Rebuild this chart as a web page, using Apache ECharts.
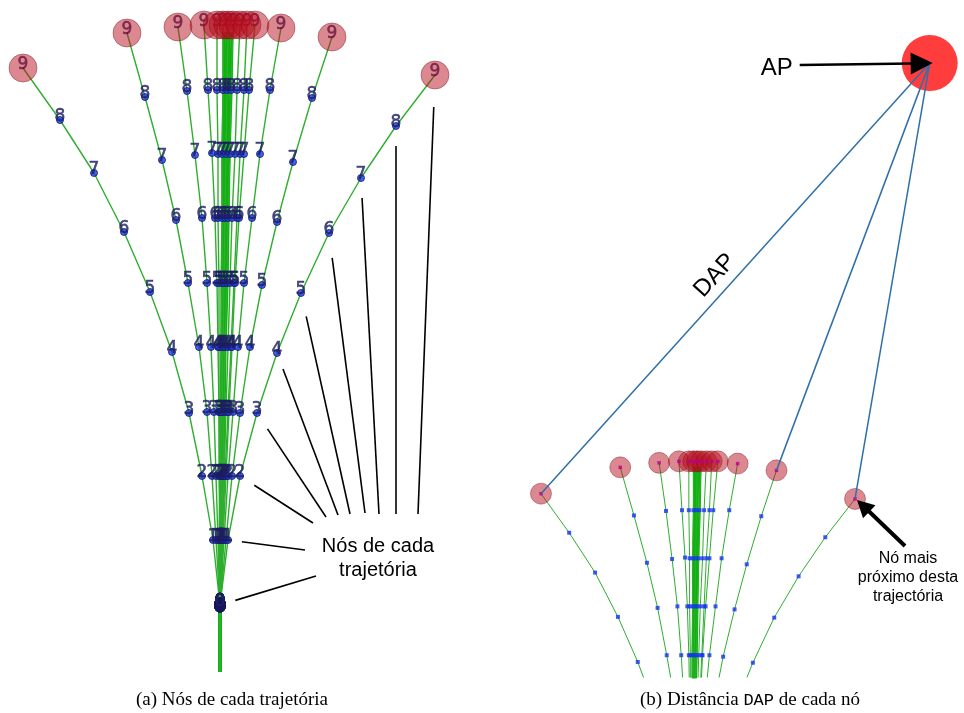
<!DOCTYPE html>
<html>
<head>
<meta charset="utf-8">
<script src="https://cdn.jsdelivr.net/npm/echarts@6/dist/echarts.min.js"></script>
<style>
html, body { margin: 0; padding: 0; background: #fff; }
#chart { width: 964px; height: 713px; }
</style>
</head>
<body>
<div id="chart"></div>
<script>
// rótulos dos nós (nível 0 a 9)
const nodeLabels = ['0', '1', '2', '3', '4', '5', '6', '7', '8', '9'];

// desvio lateral de cada nó, trajetórias da esquerda para a direita (raiz em 0)
const trajX = [
  [0, -7, -18, -31, -48, -70, -96, -126, -160, -197],
  [0, -4, -8, -13, -21, -32, -44, -58, -75, -93],
  [0, -2, -4, -6, -9, -13, -18, -25, -33, -42],
  [0, 0, -1, -1, -2, -3, -5, -8, -12, -16],
  [0, 0, 0, -1, -1, -1, -2, -2, -3, -3],
  [0, 0, 1, 1, 1, 2, 2, 2, 3, 3],
  [0, 1, 2, 2, 3, 4, 5, 6, 7, 8],
  [0, 1, 3, 4, 5, 7, 8, 10, 11, 13],
  [0, 2, 4, 6, 8, 10, 12, 15, 17, 20],
  [0, 2, 5, 8, 11, 14, 17, 20, 24, 27],
  [0, 3, 6, 9, 12, 15, 19, 24, 29, 35],
  [0, 4, 8, 13, 18, 24, 32, 40, 50, 61],
  [0, 6, 12, 20, 30, 42, 57, 73, 92, 112],
  [0, 8, 20, 37, 57, 81, 109, 141, 176, 215]
];
// altura de cada nó acima da raiz
const trajY = [
  [67, 132, 196, 259, 320, 380, 440, 499, 552, 604],
  [67, 132, 196, 260, 325, 389, 452, 512, 575, 639],
  [67, 132, 196, 260, 325, 389, 454, 517, 581, 645],
  [67, 132, 196, 260, 325, 389, 454, 519, 582, 647],
  [67, 132, 196, 260, 325, 389, 454, 518, 582, 647],
  [67, 132, 196, 260, 325, 389, 454, 518, 582, 647],
  [67, 132, 196, 260, 325, 389, 454, 518, 582, 647],
  [67, 132, 196, 260, 325, 389, 454, 518, 582, 647],
  [67, 132, 196, 260, 325, 389, 454, 518, 582, 647],
  [67, 132, 196, 260, 325, 389, 454, 518, 582, 647],
  [67, 132, 196, 260, 325, 389, 454, 518, 582, 647],
  [67, 132, 196, 260, 325, 389, 454, 518, 582, 644],
  [67, 132, 196, 259, 325, 387, 450, 510, 574, 635],
  [67, 132, 196, 259, 319, 379, 439, 494, 546, 597]
];
// feixe central (muitas trajetórias quase sobrepostas)
const bundleX = [
  [0, 0, 1, 1, 2, 2, 3, 3, 4, 4],
  [0, 1, 1, 2, 3, 4, 4, 5, 6, 7],
  [0, 1, 2, 3, 4, 5, 6, 7, 8, 9],
  [0, 1, 3, 4, 5, 7, 8, 9, 11, 12]
];
const bundleY = [67, 132, 196, 260, 325, 389, 454, 518, 582, 640];

const apPos = [313, 1177];      // ponto de acesso (painel b)
const dapTargets = [0, 12, 13]; // trajetórias ligadas ao AP
const annotated = 13;           // trajetória com as setas de anotação

const chart = echarts.init(document.getElementById('chart'));

function pts(xs, ys) {
  return [[0, 0]].concat(xs.map((x, k) => [x, ys[k]]));
}

const series = [];
[0, 1].forEach(g => {
  bundleX.forEach(xs => {
    series.push({
      type: 'line', xAxisIndex: g, yAxisIndex: g, data: pts(xs, bundleY),
      symbol: 'none', silent: true, z: 2,
      lineStyle: { color: '#0cb30c', width: g ? 2.6 : 3.3 }
    });
  });
  trajX.forEach((xs, i) => {
    series.push({
      type: 'line', xAxisIndex: g, yAxisIndex: g, data: pts(xs, trajY[i]),
      symbol: 'none', silent: true, z: 2,
      lineStyle: { color: '#2fae2f', width: g ? 1 : 1.4 }
    });
  });
});

const pink = 'rgba(185,15,30,0.62)';
const pinkBorder = 'rgba(120,15,25,0.5)';

// painel a: nós com rótulos
const nodesA = [];
const nodesB = [];
const topA = [];
trajX.forEach((xs, i) => {
  xs.forEach((x, k) => {
    const item = { value: [x, trajY[i][k], k], symbolSize: k === 9 ? 1 : 7 };
    if (k === 0) {
      item.symbolSize = [11, 14];
      item.itemStyle = { color: '#15155a' };
    }
    nodesA.push(item);
    if (k < 9) nodesB.push([x, trajY[i][k]]);
  });
  topA.push([xs[9], trajY[i][9]]);
});

series.push({
  type: 'scatter', xAxisIndex: 0, yAxisIndex: 0, data: nodesA, z: 3, silent: true,
  itemStyle: { color: '#1a3cf0', borderColor: '#161660', borderWidth: 1 },
  label: {
    show: true, position: 'inside', offset: [0, -3],
    formatter: p => nodeLabels[p.value[2]],
    color: '#1e1e62', fontFamily: 'DejaVu Sans', fontSize: 17,
    textBorderColor: '#1e1e62', textBorderWidth: 0.6
  }
});
series.push({
  type: 'scatter', xAxisIndex: 0, yAxisIndex: 0, data: topA, z: 4, silent: true,
  symbolSize: 28,
  itemStyle: { color: pink, borderColor: pinkBorder, borderWidth: 1 }
});

// painel b
series.push({
  type: 'scatter', xAxisIndex: 1, yAxisIndex: 1, data: nodesB, z: 3, silent: true,
  symbol: 'rect', symbolSize: 4, itemStyle: { color: '#1433f0' }
});
series.push({
  type: 'scatter', xAxisIndex: 1, yAxisIndex: 1, data: topA, z: 4, silent: true,
  symbolSize: 21,
  itemStyle: { color: pink, borderColor: pinkBorder, borderWidth: 1 }
});
series.push({
  type: 'scatter', xAxisIndex: 1, yAxisIndex: 1, data: topA, z: 5, silent: true,
  symbol: 'rect', symbolSize: 3.5, itemStyle: { color: '#b8008f' }
});
series.push({
  type: 'scatter', xAxisIndex: 1, yAxisIndex: 1, data: [apPos], z: 5, silent: true,
  symbolSize: 56, itemStyle: { color: '#ff0d0d' }
});
dapTargets.forEach(i => {
  series.push({
    type: 'line', xAxisIndex: 1, yAxisIndex: 1, silent: true, z: 6, symbol: 'none',
    data: [apPos, [trajX[i][9], trajY[i][9]]],
    lineStyle: { color: '#2f6fa7', width: 1.5 }
  });
});

chart.setOption({
  animation: false,
  grid: [
    { left: 0, top: 0, width: 480, height: 713 },
    { left: 480, top: 0, width: 484, height: 677 }
  ],
  xAxis: [
    { type: 'value', gridIndex: 0, min: -220, max: 260, show: false },
    { type: 'value', gridIndex: 1, min: -277, max: 358, show: false }
  ],
  yAxis: [
    { type: 'value', gridIndex: 0, min: -41, max: 672, show: false },
    { type: 'value', gridIndex: 1, min: 360, max: 1261, show: false }
  ],
  series: series
});

// anotações
const toA = p => chart.convertToPixel({ gridIndex: 0 }, p);
const toB = p => chart.convertToPixel({ gridIndex: 1 }, p);
const sans = 'Liberation Sans, Arial, sans-serif';
const serif = 'Liberation Serif, Times New Roman, serif';

function arrow(tail, tip, w, len, half) {
  const dx = tip[0] - tail[0], dy = tip[1] - tail[1];
  const L = Math.sqrt(dx * dx + dy * dy), ux = dx / L, uy = dy / L;
  const bx = tip[0] - ux * len, by = tip[1] - uy * len;
  return [
    { type: 'line', shape: { x1: tail[0], y1: tail[1], x2: bx + ux * 2, y2: by + uy * 2 }, style: { stroke: '#000', lineWidth: w }, z: 100 },
    { type: 'polygon', shape: { points: [tip, [bx - uy * half, by + ux * half], [bx + uy * half, by - ux * half]] }, style: { fill: '#000' }, z: 100 }
  ];
}

const g = [];
const leaderEnds = [[316, 576], [305, 550], [313, 523], [326, 517], [338, 515], [350, 514], [365, 513], [379, 514], [396, 514], [418, 514]];
const leaderGaps = [16, 14, 17, 19, 17, 24, 25, 20, 20, 32];
trajX[annotated].forEach((x, k) => {
  const n = toA([x, trajY[annotated][k]]);
  const e = leaderEnds[k];
  const dx = e[0] - n[0], dy = e[1] - n[1], L = Math.sqrt(dx * dx + dy * dy);
  g.push({
    type: 'line', z: 100,
    shape: { x1: n[0] + dx / L * leaderGaps[k], y1: n[1] + dy / L * leaderGaps[k], x2: e[0], y2: e[1] },
    style: { stroke: '#000', lineWidth: 1.6 }
  });
});
g.push({ type: 'text', z: 100, style: { text: 'Nós de cada', x: 378, y: 546, font: '20px ' + sans, fill: '#000', align: 'center', verticalAlign: 'middle' } });
g.push({ type: 'text', z: 100, style: { text: 'trajetória', x: 378, y: 570, font: '20px ' + sans, fill: '#000', align: 'center', verticalAlign: 'middle' } });

// AP
const ap = toB(apPos);
g.push(...arrow([ap[0] - 130, ap[1] + 2], [ap[0] + 3, ap[1]], 2.5, 22, 11));
g.push({ type: 'text', z: 100, style: { text: 'AP', x: ap[0] - 153, y: ap[1] + 5, font: '24px ' + sans, fill: '#000', align: 'center', verticalAlign: 'middle' } });

// DAP
const n0 = toB([trajX[dapTargets[0]][9], trajY[dapTargets[0]][9]]);
const ang = Math.atan2(n0[1] - ap[1], ap[0] - n0[0]);
const t = 0.48;
const fx = n0[0] + (ap[0] - n0[0]) * t, fy = n0[1] + (ap[1] - n0[1]) * t;
g.push({
  type: 'text', z: 100, x: fx - Math.sin(ang) * 17, y: fy - Math.cos(ang) * 17, rotation: ang,
  style: { text: 'DAP', x: 0, y: 0, font: '24px ' + sans, fill: '#000', align: 'center', verticalAlign: 'middle' }
});

// nó mais próximo
const q = toB([trajX[annotated][9], trajY[annotated][9]]);
g.push(...arrow([905, 546], [q[0] + 2, q[1] + 1], 4, 17, 9));
['Nó mais', 'próximo desta', 'trajectória'].forEach((s, i) => {
  g.push({ type: 'text', z: 100, style: { text: s, x: 908, y: 559 + i * 19, font: '16px ' + sans, fill: '#000', align: 'center', verticalAlign: 'middle' } });
});

// legendas
g.push({ type: 'text', z: 100, style: { text: '(a) Nós de cada trajetória', x: 232, y: 700, font: '19px ' + serif, fill: '#000', align: 'center', verticalAlign: 'middle' } });
g.push({
  type: 'text', z: 100,
  style: {
    text: '{s|(b) Distância }{m|DAP}{s| de cada nó}', x: 750, y: 700, align: 'center', verticalAlign: 'middle',
    rich: {
      s: { font: '19px ' + serif, fill: '#000' },
      m: { font: '17px Liberation Mono, monospace', fill: '#000' }
    }
  }
});

chart.setOption({ graphic: g });
</script>
</body>
</html>
